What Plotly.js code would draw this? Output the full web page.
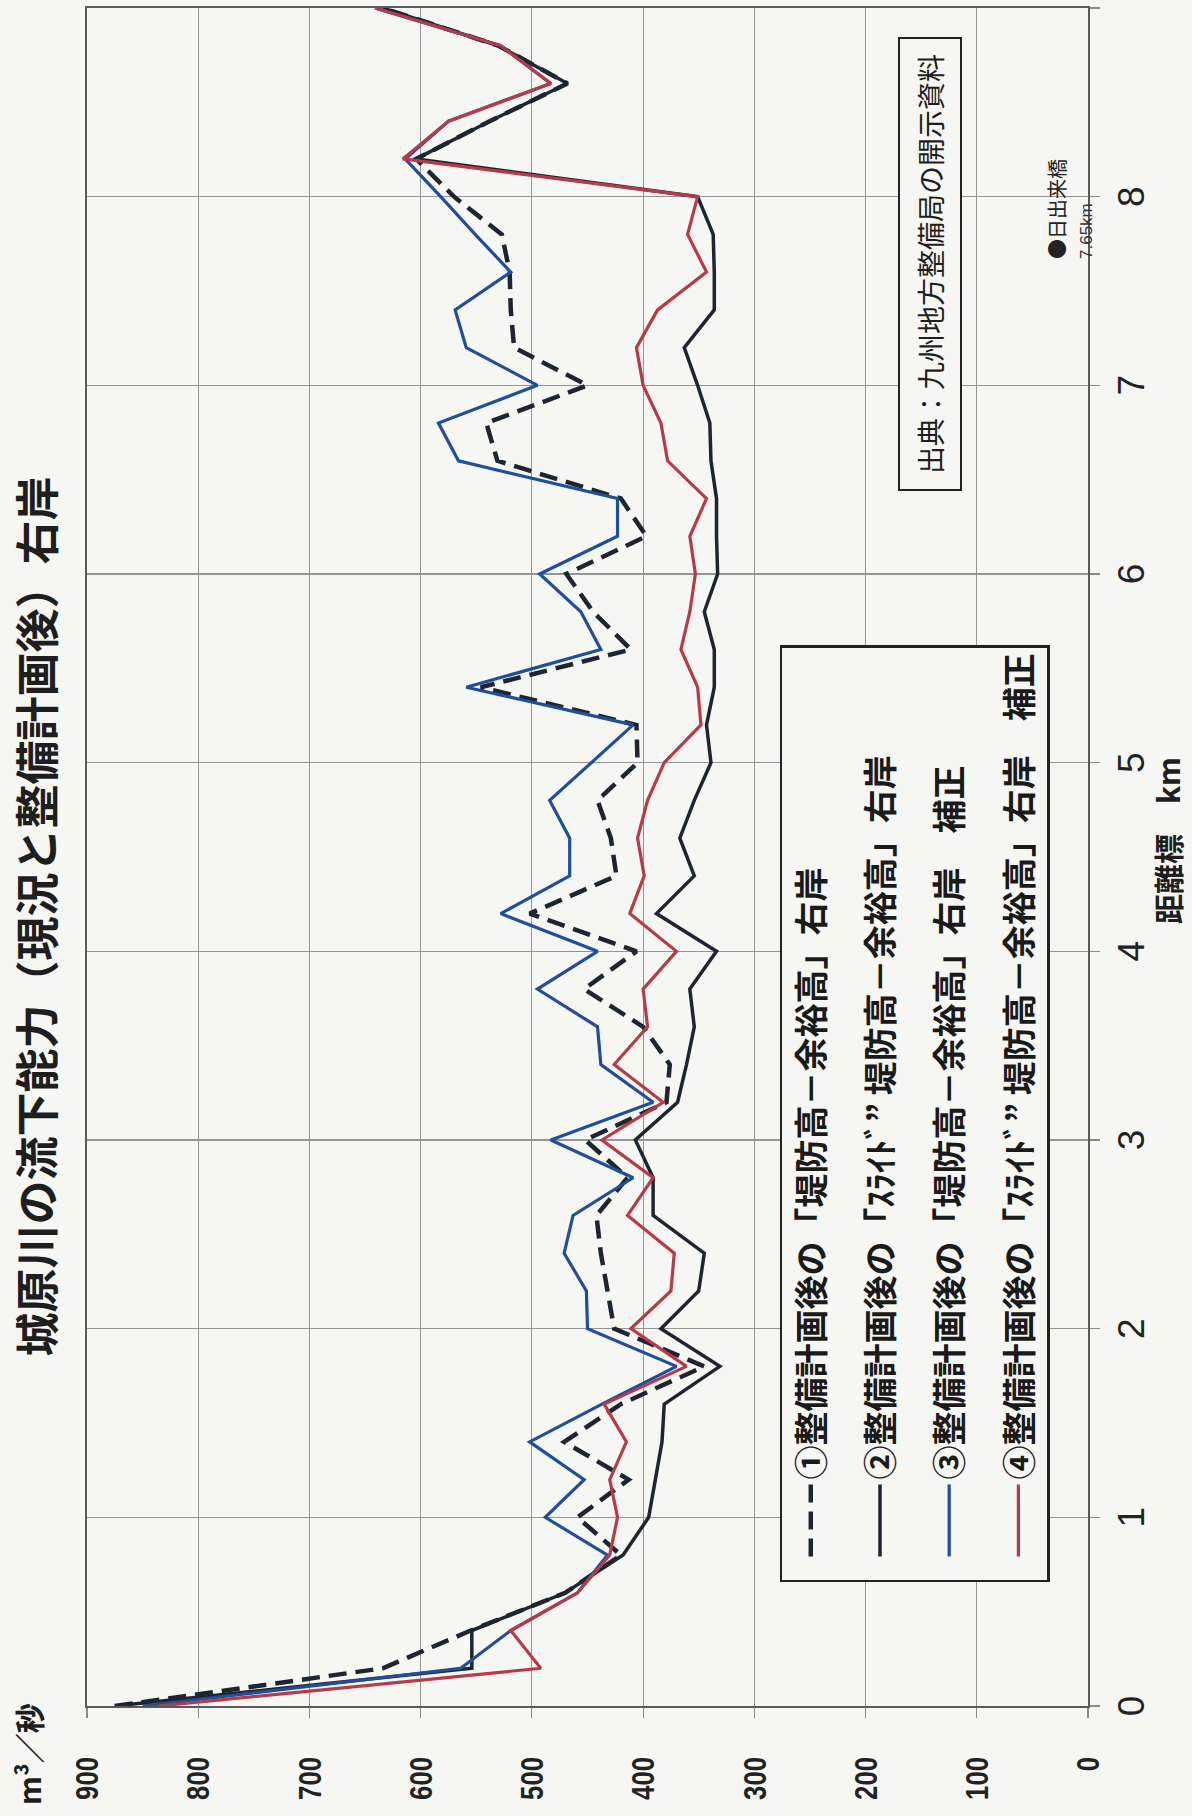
<!DOCTYPE html>
<html>
<head>
<meta charset="utf-8">
<script src="https://cdn.plot.ly/plotly-3.0.1.min.js"></script>
<style>
html,body{margin:0;padding:0;width:1192px;height:1816px;overflow:hidden;background:#f6f6f3;}
#wrap{position:absolute;left:0;top:0;width:1816px;height:1192px;transform-origin:0 0;transform:translateY(1816px) rotate(-90deg);}
#chart{width:1816px;height:1192px;}
</style>
</head>
<body>
<div id="wrap"><div id="chart"></div></div>
<script>
// distance marker (km)
const distanceKm = [0,0.2,0.4,0.6,0.8,1.0,1.2,1.4,1.6,1.8,2.0,2.2,2.4,2.6,2.8,3.0,3.2,3.4,3.6,3.8,4.0,4.2,4.4,4.6,4.8,5.0,5.2,5.4,5.6,5.8,6.0,6.2,6.4,6.6,6.8,7.0,7.2,7.4,7.6,7.8,8.0,8.2,8.4,8.6,8.8,9.0];
// ① 整備計画後の「堤防高－余裕高」右岸 (m3/s)
const seriesPlanDike = [875,634,555,470,420,459,413,471,420,345,426,432,438,442,414,452,379,376,400,453,406,502,424,429,441,405,406,546,411,445,469,397,420,531,541,450,516,519,520,527,570,604,538,468,530,634];
// ② 整備計画後の「スライド”堤防高－余裕高」右岸
const seriesPlanSlide = [875,554,554,470,418,395,389,383,381,331,384,350,345,391,391,407,369,361,354,358,334,388,354,367,354,339,343,336,336,345,333,334,334,339,340,351,363,336,336,337,351,604,538,468,530,634];
// ③ 整備計画後の「堤防高－余裕高」右岸 補正
const seriesPlanDikeCorr = [850,564,519,459,432,488,453,502,437,370,450,451,471,463,409,483,391,438,441,495,441,528,466,466,484,447,409,559,438,456,493,423,423,566,584,495,559,569,519,551,582,614,575,483,528,641];
// ④ 整備計画後の「スライド”堤防高－余裕高」右岸 補正
const seriesPlanSlideCorr = [836,492,519,459,430,423,430,415,435,361,411,375,372,414,391,437,382,426,396,400,370,412,399,405,396,381,348,351,366,358,353,358,343,378,384,400,406,387,343,360,351,616,575,483,528,641];

const seriesNames = [
  '①整備計画後の「堤防高－余裕高」右岸',
  '②整備計画後の「ｽﾗｲﾄﾞ” 堤防高－余裕高」右岸',
  '③整備計画後の「堤防高－余裕高」右岸　補正',
  '④整備計画後の「ｽﾗｲﾄﾞ” 堤防高－余裕高」右岸　補正'
];
const kmTicks = [0,1,2,3,4,5,6,7,8,9];
const dischargeTicks = [0,100,200,300,400,500,600,700,800,900];

const JP = 'Noto Sans CJK JP, Noto Sans, sans-serif';
const NUM = 'Liberation Sans, Arial, sans-serif';
const PAPER = '#f6f6f3';

const styles = [
  {color:'#1d2630', width:4.5, dash:'18px,9px'},
  {color:'#1d2630', width:3.5, dash:'solid'},
  {color:'#1f4e9e', width:3.2, dash:'solid'},
  {color:'#b83a48', width:3.2, dash:'solid'}
];
const allSeries = [seriesPlanDike, seriesPlanSlide, seriesPlanDikeCorr, seriesPlanSlideCorr];

const traces = allSeries.map((vals, i) => ({
  type:'scatter', mode:'lines',
  x: distanceKm, y: vals,
  name: seriesNames[i],
  legendgroup: 'g'+i,
  line: styles[i],
  hoverinfo:'skip'
}));

const layout = {
  width:1816, height:1192,
  paper_bgcolor:PAPER, plot_bgcolor:PAPER,
  margin:{l:110, r:8, t:87, b:104},
  showlegend:true,
  title:{
    text:'城原川の流下能力（現況と整備計画後）右岸',
    font:{family:JP, size:44, weight:'bold', color:'#1e1e1e'},
    xref:'paper', x:0.465, xanchor:'center',
    yref:'container', y:0.968, yanchor:'middle'
  },
  xaxis:{
    range:[0,9], tickvals:kmTicks, ticktext:kmTicks.map(String),
    showgrid:true, gridcolor:'#959595', gridwidth:1.2,
    zeroline:false,
    showline:true, mirror:true, linecolor:'#5a5a5a', linewidth:1.6,
    ticks:'outside', ticklen:10, tickcolor:'#8a8a8a', tickwidth:1.2,
    ticklabelstandoff:0,
    tickfont:{family:NUM, size:37, color:'#222'}
  },
  yaxis:{
    range:[0,900], tickvals:dischargeTicks, ticktext:dischargeTicks.map(String),
    showgrid:true, gridcolor:'#959595', gridwidth:1.2,
    zeroline:false,
    showline:true, mirror:true, linecolor:'#5a5a5a', linewidth:1.6,
    ticks:'outside', ticklen:10, tickcolor:'#8a8a8a', tickwidth:1.2,
    ticklabelstandoff:33,
    tickfont:{family:NUM, size:32, weight:'bold', color:'#222'}
  },
  legend:{
    x:0.073, y:0.308, xanchor:'left', yanchor:'top',
    bgcolor:PAPER, bordercolor:'#222', borderwidth:2.5,
    font:{family:JP, size:34, weight:'bold', color:'#1a1a1a'},
    itemwidth:72, indentation:18, tracegroupgap:22, traceorder:'grouped'
  },
  annotations:[
    {text:'m³／秒', xref:'paper', yref:'paper', x:-0.0595, y:1.059, xanchor:'left', yanchor:'middle',
     showarrow:false, font:{family:JP, size:30, weight:'bold', color:'#1e1e1e'}},
    {text:'距離標　km', xref:'paper', yref:'paper', x:0.51, y:-0.079, xanchor:'center', yanchor:'middle',
     showarrow:false, font:{family:JP, size:30, weight:'bold', color:'#1e1e1e'}},
    {text:'出典：九州地方整備局の開示資料', xref:'paper', yref:'paper', x:0.849, y:0.158, xanchor:'center', yanchor:'middle',
     showarrow:false, font:{family:JP, size:28, color:'#1e1e1e'},
     bordercolor:'#222', borderwidth:2, borderpad:10, bgcolor:PAPER, width:430, height:40},
    {text:'●日出来橋', xref:'x', yref:'y', x:7.66, y:28, xanchor:'left', yanchor:'middle',
     showarrow:false, font:{family:JP, size:20, color:'#222'}},
    {text:'7.65km', xref:'x', yref:'y', x:7.66, y:1, xanchor:'left', yanchor:'middle',
     showarrow:false, font:{family:NUM, size:17, color:'#333'}}
  ]
};

Plotly.newPlot('chart', traces, layout, {displayModeBar:false, staticPlot:true}).then(gd => {
  // condensed look of the discharge tick labels
  gd.querySelectorAll('.ytick text').forEach(t => {
    const n = (t.textContent || '').length;
    t.setAttribute('textLength', String(n * 14.3));
    t.setAttribute('lengthAdjust', 'spacingAndGlyphs');
  });
});
</script>
</body>
</html>
